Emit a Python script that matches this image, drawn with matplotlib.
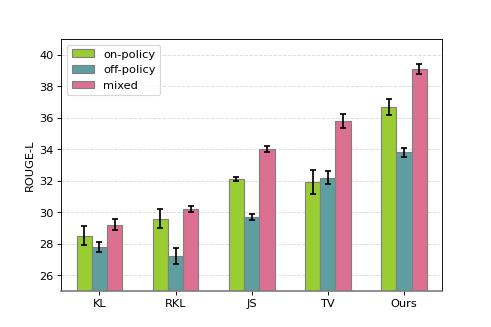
import numpy as np
import matplotlib.pyplot as plt

methods = ["KL", "RKL", "JS", "TV", "Ours"]
labels = ["on-policy", "off-policy", "mixed"]
on_policy = [28.5, 29.6, 32.1, 31.9, 36.7]
on_policy_err = [0.6, 0.6, 0.15, 0.75, 0.5]
off_policy = [27.8, 27.2, 29.7, 32.2, 33.8]
off_policy_err = [0.3, 0.5, 0.2, 0.4, 0.3]
mixed = [29.2, 30.2, 34.0, 35.8, 39.1]
mixed_err = [0.35, 0.2, 0.2, 0.45, 0.3]

colors = ["yellowgreen", "cadetblue", "palevioletred"]

fig, ax = plt.subplots(figsize=(6, 4), dpi=81.85)

x = np.arange(len(methods))
width = 0.2
series = [(on_policy, on_policy_err), (off_policy, off_policy_err), (mixed, mixed_err)]
for i, (vals, errs) in enumerate(series):
    ax.bar(x + (i - 1) * width, vals, width, yerr=errs, color=colors[i],
           edgecolor="grey", linewidth=1, label=labels[i], zorder=2,
           error_kw=dict(ecolor="black", elinewidth=1.5, capsize=3, capthick=1.5))

ax.set_xticks(x)
ax.set_xticklabels(methods)
ax.set_xlim(-0.5, 4.5)
ax.set_ylim(25, 41)
ax.set_yticks(range(26, 41, 2))
ax.set_ylabel("ROUGE-L")
ax.yaxis.grid(True, linestyle="--", color="lightgrey", alpha=0.8, zorder=0)
ax.set_axisbelow(True)
ax.spines["bottom"].set_color("grey")
ax.spines["bottom"].set_linewidth(1.5)
ax.legend(loc="upper left")

plt.savefig("out.png")
